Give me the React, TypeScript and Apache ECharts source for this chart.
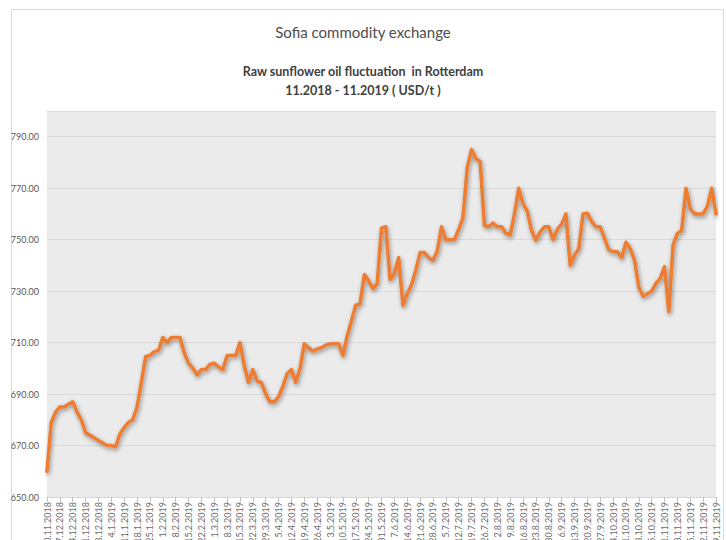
import React, { useEffect, useRef } from "react";
import * as echarts from "echarts";

const weekLabels = [
  "30.11.2018", "7.12.2018", "14.12.2018", "21.12.2018", "28.12.2018",
  "4.1.2019", "11.1.2019", "18.1.2019", "25.1.2019", "1.2.2019", "8.2.2019",
  "15.2.2019", "22.2.2019", "1.3.2019", "8.3.2019", "15.3.2019", "22.3.2019",
  "29.3.2019", "5.4.2019", "12.4.2019", "19.4.2019", "26.4.2019", "3.5.2019",
  "10.5.2019", "17.5.2019", "24.5.2019", "31.5.2019", "7.6.2019", "14.6.2019",
  "21.6.2019", "28.6.2019", "5.7.2019", "12.7.2019", "19.7.2019", "26.7.2019",
  "2.8.2019", "9.8.2019", "16.8.2019", "23.8.2019", "30.8.2019", "6.9.2019",
  "13.9.2019", "20.9.2019", "27.9.2019", "4.10.2019", "11.10.2019",
  "18.10.2019", "25.10.2019", "1.11.2019", "8.11.2019", "15.11.2019",
  "22.11.2019", "29.11.2019",
];

// three readings per week
const prices = [
  660, 679, 683, 685, 685, 686, 687, 683, 680, 675,
  674, 673, 672, 671, 670, 670, 669.5, 674.5, 677, 679,
  680, 685, 694.5, 704.5, 705, 706.5, 707, 712, 710, 712,
  712, 712, 706, 702, 700, 697.5, 699.5, 699.5, 701.5, 702,
  700.5, 699.5, 705, 705, 705, 710, 701, 694.5, 699.5, 695,
  694.5, 690, 687, 687, 689, 693, 698, 699.5, 694.5, 700,
  709.5, 708, 706.7, 707.5, 708, 709, 709.5, 709.6, 709.6, 705,
  712.5, 718.5, 724.5, 725, 736.5, 734, 731, 733, 754.5, 755,
  734.5, 737, 743, 724.5, 729, 732.5, 738, 745, 745, 743,
  742, 745.5, 755, 750, 750, 750, 754, 758.5, 778, 785,
  781.5, 780.4, 755.5, 755, 756.5, 755, 755, 752.5, 751.8, 760,
  770, 764, 761, 753.5, 749.8, 753, 755, 755, 750, 754,
  756, 760, 740, 744, 746.5, 760, 760.3, 757, 755, 755,
  750.5, 746, 745.3, 745.3, 743, 749, 746.5, 742, 731.5, 728,
  729, 730, 733, 735, 739.5, 722, 748, 752.5, 753.5, 770,
  762, 760, 760, 760, 763, 770, 760,
];

const PER_WEEK = 3;
const categories = prices.map((_, i) =>
  i % PER_WEEK === 0 ? weekLabels[i / PER_WEEK] ?? "" : ""
);

const FONT = "Lato, 'Noto Sans', sans-serif";

export default function App() {
  const ref = useRef<HTMLDivElement>(null);

  useEffect(() => {
    if (!ref.current) return;
    const chart = echarts.init(ref.current, null, { renderer: "svg" });
    chart.setOption({
      animation: false,
      backgroundColor: "#ffffff",
      textStyle: { fontFamily: FONT },
      title: [
        {
          text: "Sofia commodity exchange",
          left: "center",
          top: 19,
          textStyle: { fontSize: 15, fontWeight: "normal", color: "#4d4d4d", fontFamily: FONT },
        },
        {
          text: "Raw sunflower oil fluctuation  in Rotterdam",
          left: "center",
          top: 60,
          textStyle: { fontSize: 12.5, fontWeight: "bold", color: "#404040", fontFamily: FONT },
        },
        {
          text: "11.2018 - 11.2019 ( USD/t )",
          left: "center",
          top: 79,
          textStyle: { fontSize: 12.5, fontWeight: "bold", color: "#404040", fontFamily: FONT },
        },
      ],
      graphic: [
        {
          type: "rect",
          shape: { x: 11.5, y: 9.5, width: 712, height: 540 },
          style: { fill: "none", stroke: "#d9d9d9", lineWidth: 1 },
          silent: true,
        },
      ],
      grid: {
        left: 47,
        right: 10,
        top: 111,
        bottom: 43,
        show: true,
        backgroundColor: "#ebebeb",
        borderWidth: 0,
        containLabel: false,
        outerBoundsMode: "none",
      },
      xAxis: {
        type: "category",
        data: categories,
        boundaryGap: false,
        axisLine: { show: true, lineStyle: { color: "#d9d9d9" } },
        axisTick: { show: true, interval: PER_WEEK - 1, length: 5, lineStyle: { color: "#bfbfbf" } },
        axisLabel: {
          interval: PER_WEEK - 1,
          rotate: 90,
          fontSize: 9,
          color: "#6b6b6b",
          margin: 5,
          fontFamily: FONT,
          hideOverlap: false,
        },
        splitLine: { show: false },
      },
      yAxis: {
        type: "value",
        min: 650,
        max: 800,
        interval: 20,
        axisLine: { show: false },
        axisTick: { show: false },
        axisLabel: {
          fontSize: 9,
          color: "#595959",
          margin: 8,
          showMaxLabel: false,
          fontFamily: FONT,
          formatter: (v: number) => v.toFixed(2),
        },
        splitLine: { show: true, lineStyle: { color: "#d9d9d9", width: 1 } },
      },
      series: [
        {
          type: "line",
          data: prices,
          showSymbol: false,
          symbol: "none",
          lineStyle: {
            color: "#ED7D31",
            width: 3.5,
            join: "round",
            cap: "round",
            shadowColor: "rgba(0,0,0,0.4)",
            shadowBlur: 4,
            shadowOffsetX: 1,
            shadowOffsetY: 2,
          },
          itemStyle: { color: "#ED7D31" },
        },
      ],
    });
    return () => chart.dispose();
  }, []);

  return (
    <div
      ref={ref}
      style={{ position: "fixed", left: 0, top: 0, width: 726, height: 540 }}
    />
  );
}
